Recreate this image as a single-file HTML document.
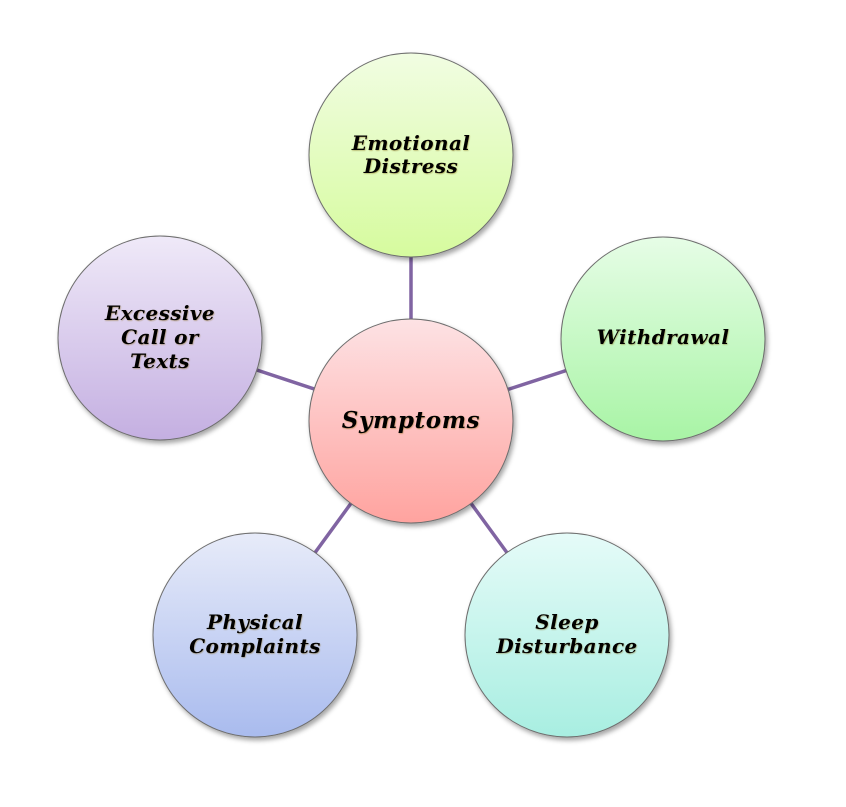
<!DOCTYPE html>
<html><head><meta charset="utf-8"><style>
html,body{margin:0;padding:0;background:#fff;}
svg{display:block;}
text{font-family:"DejaVu Serif","Liberation Serif",serif;font-weight:bold;font-style:italic;fill:#000;text-anchor:middle;}
</style></head><body>
<svg width="846" height="807" viewBox="0 0 846 807" xmlns="http://www.w3.org/2000/svg">
<defs>
<filter id="sh" x="-20%" y="-20%" width="140%" height="140%">
<feDropShadow dx="2" dy="3" stdDeviation="2.5" flood-color="#000" flood-opacity="0.35"/>
</filter>
<filter id="ts" x="-10%" y="-30%" width="120%" height="160%">
<feDropShadow dx="0.6" dy="0.8" stdDeviation="0.6" flood-color="#7a5a00" flood-opacity="0.45"/>
</filter>
<linearGradient id="g1" x1="0" y1="0" x2="0" y2="1"><stop offset="0" stop-color="#f1fde2"/><stop offset="1" stop-color="#d6fb9e"/></linearGradient>
<linearGradient id="g2" x1="0" y1="0" x2="0" y2="1"><stop offset="0" stop-color="#fde2e4"/><stop offset="1" stop-color="#ffa39f"/></linearGradient>
<linearGradient id="g3" x1="0" y1="0" x2="0" y2="1"><stop offset="0" stop-color="#e6fde6"/><stop offset="1" stop-color="#a8f4a5"/></linearGradient>
<linearGradient id="g4" x1="0" y1="0" x2="0" y2="1"><stop offset="0" stop-color="#e5fbf8"/><stop offset="1" stop-color="#a8eee1"/></linearGradient>
<linearGradient id="g5" x1="0" y1="0" x2="0" y2="1"><stop offset="0" stop-color="#e7ebf9"/><stop offset="1" stop-color="#a9bbee"/></linearGradient>
<linearGradient id="g6" x1="0" y1="0" x2="0" y2="1"><stop offset="0" stop-color="#efe9f8"/><stop offset="1" stop-color="#c4afe1"/></linearGradient>
</defs>
<g stroke="#8064a2" stroke-width="3.5">
<line x1="411" y1="421" x2="411" y2="155"/>
<line x1="411" y1="421" x2="663" y2="339"/>
<line x1="411" y1="421" x2="160" y2="338"/>
<line x1="411" y1="421" x2="255" y2="635"/>
<line x1="411" y1="421" x2="567" y2="635"/>
</g>
<g stroke="#6e6e6e" stroke-width="1" filter="url(#sh)">
<circle cx="411" cy="155" r="102" fill="url(#g1)"/>
<circle cx="663" cy="339" r="102" fill="url(#g3)"/>
<circle cx="160" cy="338" r="102" fill="url(#g6)"/>
<circle cx="255" cy="635" r="102" fill="url(#g5)"/>
<circle cx="567" cy="635" r="102" fill="url(#g4)"/>
<circle cx="411" cy="421" r="102" fill="url(#g2)"/>
</g>
<g filter="url(#ts)" font-size="20" letter-spacing="0.4">
<text x="411" y="150">Emotional</text>
<text x="411" y="173">Distress</text>
<text x="663" y="344">Withdrawal</text>
<text x="160" y="320">Excessive</text>
<text x="160" y="344">Call or</text>
<text x="160" y="368">Texts</text>
<text x="255" y="629">Physical</text>
<text x="255" y="653">Complaints</text>
<text x="567" y="629">Sleep</text>
<text x="567" y="653">Disturbance</text>
<text x="411" y="428" font-size="23" letter-spacing="0.6">Symptoms</text>
</g>
</svg>
</body></html>
